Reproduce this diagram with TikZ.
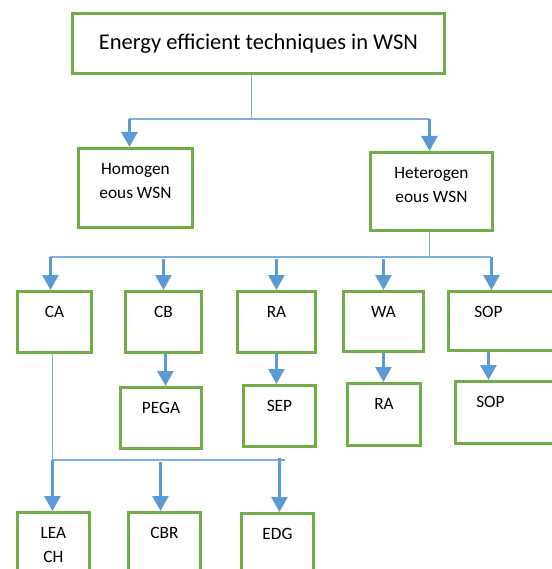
\documentclass[tikz,border=0pt]{standalone}
\usepackage{fontspec}
\setmainfont{Carlito}
\usetikzlibrary{arrows.meta}
\definecolor{boxgreen}{HTML}{70AD47}
\definecolor{linkblue}{HTML}{5B9BD5}
\tikzset{
	tbox/.style={draw=boxgreen, line width=2.9pt, anchor=north west, inner sep=0pt},
	boxtext/.style={anchor=north, yshift=-16pt, inner sep=0pt, align=center, font=\fontsize{17.3}{24}\selectfont},
	plain/.style={draw=linkblue!80, line width=1.3pt},
	arrow/.style={draw=linkblue, line width=2.8pt, -{Triangle[width=16pt,length=15pt]}}
}
\begin{document}
\begin{tikzpicture}[x=1pt, y=-1pt]
		%%%%% START %%%%%
		\useasboundingbox (0,0) rectangle (551,569);
		
		\node[tbox, minimum width=372pt, minimum height=60pt, font=\fontsize{22.5}{27}\selectfont] (top) at (71,12) {Energy efficient techniques in WSN};
		
		\node[tbox, minimum width=114pt, minimum height=79pt, label={[boxtext]north:{Homogen\\eous WSN}}] (homo) at (77,147) {};
		\node[tbox, minimum width=122pt, minimum height=78pt, label={[boxtext]north:{Heterogen\\eous WSN}}] (hetero) at (369,151) {};
		
		% techniques below heterogeneous
		\node[tbox, minimum width=74pt, minimum height=61pt, label={[boxtext]north:CA}] (ca) at (16,290) {};
		\node[tbox, minimum width=76pt, minimum height=61pt, label={[boxtext]north:CB}] (cb) at (124,290) {};
		\node[tbox, minimum width=78pt, minimum height=61pt, label={[boxtext]north:RA}] (ra) at (236,290) {};
		\node[tbox, minimum width=80pt, minimum height=60pt, label={[boxtext]north:WA}] (wa) at (342,290) {};
		\node[tbox, minimum width=120pt, minimum height=59pt, label={[boxtext, xshift=-20pt]north:SOP}] (sop) at (447,290) {};
		
		\node[tbox, minimum width=81pt, minimum height=61pt, label={[boxtext]north:PEGA}] (pega) at (119,386) {};
		\node[tbox, minimum width=72pt, minimum height=61pt, label={[boxtext]north:SEP}] (sep) at (242,384) {};
		\node[tbox, minimum width=73pt, minimum height=62pt, label={[boxtext]north:RA}] (rab) at (346,382) {};
		\node[tbox, minimum width=120pt, minimum height=62pt, label={[boxtext, xshift=-25pt]north:SOP}] (sopb) at (454,380) {};
		
		% cluster based
		\node[tbox, minimum width=72pt, minimum height=70pt, label={[boxtext]north:{LEA\\CH}}] (leach) at (16,511) {};
		\node[tbox, minimum width=72pt, minimum height=70pt, label={[boxtext]north:CBR}] (cbr) at (127,511) {};
		\node[tbox, minimum width=72pt, minimum height=70pt, label={[boxtext]north:EDG}] (edg) at (240,512) {};
		
		\coordinate (hubA) at (0,119);
		\coordinate (hubB) at (0,257);
		\coordinate (hubC) at (0,460);
		
		\draw[plain] ([xshift=-7pt]top.south) -- ([xshift=-7pt]top.south |- hubA);
		\draw[plain] ([xshift=-6pt]homo.north |- hubA) -- ([xshift=-2pt]hetero.north |- hubA);
		\draw[arrow] ([xshift=-6pt]homo.north |- hubA) -- ([xshift=-6pt]homo.north);
		\draw[arrow] ([xshift=-2pt]hetero.north |- hubA) -- ([xshift=-2pt]hetero.north);
		
		\draw[plain] ([xshift=-2pt]hetero.south) -- ([xshift=-2pt]hetero.south |- hubB);
		\draw[plain] ([xshift=-4pt]ca.north |- hubB) -- ([xshift=-17pt]sop.north |- hubB);
		\draw[arrow] ([xshift=-4pt]ca.north |- hubB) -- ([xshift=-4pt]ca.north);
		\draw[arrow] ([yshift=-2pt]cb.north |- hubB) -- (cb.north);
		\draw[arrow] ([yshift=-2pt]ra.north |- hubB) -- (ra.north);
		\draw[arrow] ([yshift=-2pt]wa.north |- hubB) -- (wa.north);
		\draw[arrow] ([xshift=-17pt]sop.north |- hubB) -- ([xshift=-17pt]sop.north);
		
		\draw[arrow] ([xshift=2pt]cb.south) -- ([xshift=2pt]cb.south |- pega.north);
		\draw[arrow] (ra.south) -- (ra.south |- sep.north);
		\draw[arrow] (wa.south) -- (wa.south |- rab.north);
		\draw[arrow] ([xshift=-20pt]sop.south) -- ([xshift=-20pt]sop.south |- sopb.north);
		
		\draw[plain] ([xshift=-2pt]ca.south) -- ([xshift=-2pt]ca.south |- hubC);
		\draw[plain] ([xshift=-2pt]ca.south |- hubC) -- ([xshift=8pt]edg.north |- hubC);
		\draw[arrow] ([xshift=-1pt]leach.north |- hubC) -- ([xshift=-1pt]leach.north);
		\draw[arrow] ([xshift=-4pt,yshift=-2pt]cbr.north |- hubC) -- ([xshift=-4pt]cbr.north);
		\draw[arrow] ([xshift=2pt,yshift=2pt]edg.north |- hubC) -- ([xshift=2pt]edg.north);
		
		%%%%% END %%%%%
	\end{tikzpicture}
\end{document}
